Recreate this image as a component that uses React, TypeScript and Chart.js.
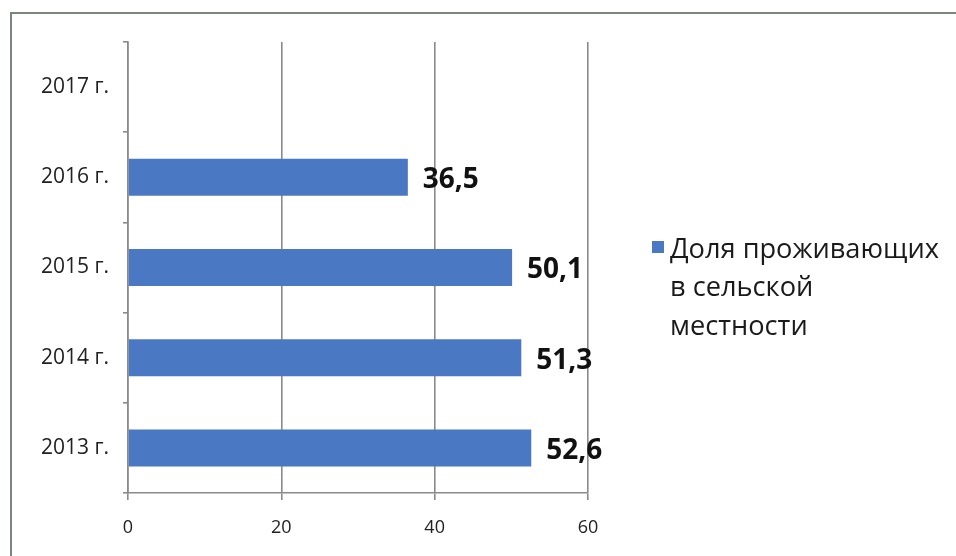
import React, { useEffect, useRef } from "react";
import { Chart, registerables } from "chart.js";

Chart.register(...registerables);

const categories = ["2013 г.", "2014 г.", "2015 г.", "2016 г.", "2017 г."];
const values: (number | null)[] = [52.6, 51.3, 50.1, 36.5, null];
const seriesName = "Доля проживающих в сельской местности";
const legendLines = ["Доля проживающих", "в сельской", "местности"];
const xTicks = [0, 20, 40, 60];

const FONT = "'Open Sans', 'Noto Sans', sans-serif";
const BAR_COLOR = "#4a78c2";
const GRID = "#8a8a8a";

const valueLabels = {
  id: "valueLabels",
  afterDatasetsDraw(chart: any) {
    const ctx = chart.ctx;
    const meta = chart.getDatasetMeta(0);
    const data = chart.data.datasets[0].data;
    ctx.save();
    ctx.font = `bold 28px ${FONT}`;
    ctx.fillStyle = "#111";
    ctx.textAlign = "left";
    ctx.textBaseline = "middle";
    meta.data.forEach((el: any, i: number) => {
      const v = data[i];
      if (v == null) return;
      ctx.fillText(String(v).replace(".", ","), el.x + 15, el.y + 3);
    });
    ctx.restore();
  },
};

const sideLegend = {
  id: "sideLegend",
  afterDraw(chart: any) {
    const ctx = chart.ctx;
    ctx.save();
    ctx.fillStyle = chart.data.datasets[0].backgroundColor;
    ctx.fillRect(652, 241, 12, 12);
    ctx.font = `27.2px ${FONT}`;
    ctx.fillStyle = "#1a1a1a";
    ctx.textAlign = "left";
    ctx.textBaseline = "middle";
    legendLines.forEach((line, i) => {
      ctx.fillText(line, 670, 250 + i * 38.5);
    });
    ctx.restore();
  },
};

export default function App() {
  const ref = useRef<HTMLCanvasElement>(null);
  useEffect(() => {
    if (!ref.current) return;
    const chart = new Chart(ref.current, {
      type: "bar",
      data: {
        labels: categories,
        datasets: [
          {
            label: seriesName,
            data: values,
            backgroundColor: BAR_COLOR,
            barPercentage: 0.41,
            categoryPercentage: 1,
          },
        ],
      },
      options: {
        indexAxis: "y",
        animation: false,
        responsive: false,
        maintainAspectRatio: false,
        layout: { padding: { left: 0, right: 368, top: 42, bottom: 0 } },
        plugins: {
          legend: { display: false },
          tooltip: { enabled: false },
        },
        scales: {
          x: {
            type: "linear",
            min: 0,
            max: 60,
            afterBuildTicks: (s: any) => {
              s.ticks = xTicks.map((v) => ({ value: v }));
            },
            afterFit: (s: any) => {
              s.height = 63;
            },
            ticks: {
              font: { family: FONT, size: 18 },
              color: "#222",
              padding: 17,
            },
            grid: {
              color: GRID,
              lineWidth: 1.6,
              tickLength: 7,
              drawTicks: true,
            },
            border: { color: GRID, width: 1.6 },
          },
          y: {
            reverse: true,
            afterFit: (s: any) => {
              s.width = 128;
            },
            ticks: {
              font: { family: FONT, size: 21 },
              color: "#222",
              padding: 14,
            },
            grid: {
              offset: true,
              drawOnChartArea: false,
              drawTicks: true,
              tickLength: 5,
              color: GRID,
              lineWidth: 1.6,
            },
            border: { color: GRID, width: 1.6 },
          },
        },
      },
      plugins: [valueLabels, sideLegend],
    });
    return () => chart.destroy();
  }, []);

  return (
    <div style={{ position: "fixed", left: 0, top: 0, width: 956, height: 556, background: "#fff", overflow: "hidden" }}>
      <div
        style={{
          position: "absolute",
          left: 10,
          top: 12,
          width: 1000,
          height: 600,
          borderLeft: "2px solid #7d857f",
          borderTop: "2px solid #7d857f",
        }}
      />
      <canvas ref={ref} width={956} height={556} style={{ position: "absolute", left: 0, top: 0, width: 956, height: 556 }} />
    </div>
  );
}
